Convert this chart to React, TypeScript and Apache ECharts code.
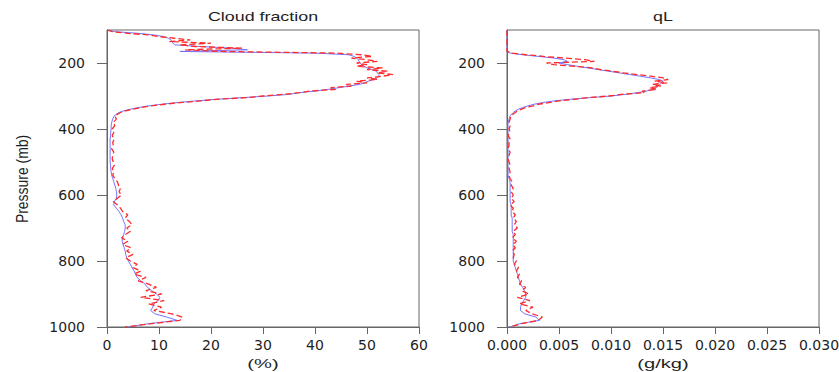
import React, { useEffect, useRef } from "react";
import * as echarts from "echarts";

const pressure = [
  100, 105, 110, 115, 120, 125, 130, 135, 140, 145, 150, 155, 160, 165, 170, 175, 180, 185, 190, 195,
  200, 205, 210, 215, 220, 225, 230, 235, 240, 245, 250, 255, 260, 265, 270, 275, 280, 285, 290, 295,
  300, 305, 310, 315, 320, 325, 330, 335, 340, 345, 350,
  360, 370, 380, 390, 400, 410, 420, 430, 440, 450, 460, 470, 480, 490, 500,
  510, 520, 530, 540, 550, 560, 570, 580, 590, 600, 610, 620, 630, 640, 650,
  660, 670, 680, 690, 700, 710, 720, 730, 740, 750, 760, 770, 780, 790, 800,
  810, 820, 830, 840, 850, 860, 870, 880, 890, 900, 910, 920, 930, 940, 950,
  960, 970, 980, 990, 1000,
];

const cfBlue = [
  0, 1.5, 6, 9, 11, 11.8, 12.3, 12.5, 12.7, 13, 18, 24, 27, 14, 40, 46.5, 47.5, 48, 48.3, 48.5,
  48.6, 49, 49.5, 50, 51, 51.8, 52, 52.3, 52.3, 52, 51.2, 50.3, 49.5, 48.5, 46.5, 44.5, 42.5, 40, 37, 35,
  31, 26, 21, 17, 13.5, 10.5, 8, 6, 4.5, 3.2, 2.3,
  1.4, 1.1, 0.9, 0.8, 0.8, 0.7, 0.7, 0.6, 0.6, 0.6, 0.6, 0.6, 0.6, 0.6, 0.6,
  0.7, 0.7, 0.8, 0.9, 1.1, 1.3, 1.5, 1.7, 1.8, 1.9, 1.8, 1.4, 1.3, 1.8, 2.3,
  2.7, 3.0, 3.2, 3.5, 3.5, 3.4, 3.2, 3.0, 2.9, 3.1, 3.3, 3.5, 3.6, 3.8, 4.1,
  4.5, 4.8, 5.2, 5.5, 5.8, 6.5, 7.3, 7.8, 8.6, 9.5, 10.2, 9.8, 9.0, 8.8, 8.4,
  9.2, 11.5, 13.5, 8, 4,
];

const cfRed = [
  0, 1, 4, 8, 10, 13, 16, 12, 20, 14, 17, 26, 15, 22, 44, 49, 51, 47, 50, 52,
  48, 50, 48, 53, 50, 54, 52, 55, 53, 50, 52, 48, 50, 46, 47, 43, 44, 39, 37, 34,
  30, 27, 21, 18, 14, 11, 8.5, 6.5, 5, 3.5, 2.6,
  1.5, 1.8, 1.2, 1.5, 1.0, 1.3, 1.0, 1.4, 1.1, 1.2, 0.9, 1.3, 1.1, 1.0, 1.2,
  1.4, 1.0, 1.3, 1.1, 1.5, 2.0, 2.2, 2.6, 2.3, 2.8, 2.0, 1.2, 2.0, 2.6, 3.0,
  4.0, 3.5, 4.3, 4.8, 3.8, 4.5, 3.5, 2.8, 4.0, 3.0, 4.6, 3.8, 5.0, 3.6, 4.5,
  5.8, 5.0, 6.5, 5.2, 7.5, 6.0, 8.0, 9.5, 7.5, 10.5, 6.5, 11.0, 8.0, 10.5, 9.0,
  12.5, 14.5, 14.0, 8.5, 3.5,
];

const qlBlue = [
  0, 0, 0, 0, 0, 0, 0, 0, 0, 0, 0, 0, 0, 0, 0.0003, 0.0015, 0.003, 0.0045, 0.0055, 0.0058,
  0.005, 0.0058, 0.0068, 0.0078, 0.0088, 0.0098, 0.0108, 0.0118, 0.0128, 0.0138, 0.0146, 0.015, 0.0149, 0.0147, 0.0145, 0.0143, 0.014, 0.0134, 0.0125, 0.0114,
  0.01, 0.008, 0.006, 0.0045, 0.0034, 0.0026, 0.002, 0.0015, 0.0011, 0.0008, 0.0006,
  0.0003, 0.0002, 0.0001, 0.0001, 0.0001, 0.0001, 0.0001, 0.0001, 0.0001, 0.0001, 0.0001, 0.0001, 0.0001, 0.0001, 0.0001,
  0.0001, 0.0001, 0.0001, 0.0001, 0.0002, 0.0003, 0.0003, 0.0003, 0.0003, 0.0003, 0.0003, 0.0003, 0.0004, 0.0004, 0.0004,
  0.0004, 0.0005, 0.0005, 0.0005, 0.0005, 0.0005, 0.0006, 0.0006, 0.0006, 0.0006, 0.0006, 0.0006, 0.0006, 0.0006, 0.0006,
  0.0007, 0.0008, 0.0009, 0.001, 0.0011, 0.0012, 0.0013, 0.0015, 0.0017, 0.0018, 0.0018, 0.0016, 0.0014, 0.0013, 0.0013,
  0.0017, 0.0028, 0.0031, 0.0012, 0.0003,
];

const qlRed = [
  0, 0, 0, 0, 0, 0, 0, 0, 0, 0, 0, 0, 0, 0, 0.0005, 0.0018, 0.0035, 0.0055, 0.0075, 0.0084,
  0.0038, 0.0045, 0.0065, 0.0082, 0.009, 0.0102, 0.0112, 0.0125, 0.0138, 0.015, 0.0155, 0.0142, 0.0154, 0.014, 0.0148, 0.0137, 0.0144, 0.013, 0.0132, 0.011,
  0.0098, 0.0078, 0.0065, 0.005, 0.004, 0.003, 0.0025, 0.0018, 0.0014, 0.001, 0.0008,
  0.0004, 0.0003, 0.0002, 0.0003, 0.0002, 0.0003, 0.0001, 0.0003, 0.0002, 0.0002, 0.0001, 0.0003, 0.0002, 0.0001, 0.0002,
  0.0003, 0.0002, 0.0003, 0.0002, 0.0003, 0.0005, 0.0004, 0.0006, 0.0004, 0.0006, 0.0004, 0.0007, 0.0003, 0.0006, 0.0005,
  0.0008, 0.0006, 0.0009, 0.0007, 0.001, 0.0006, 0.0008, 0.0005, 0.0009, 0.0006, 0.0008, 0.0005, 0.0007, 0.0006, 0.0009,
  0.0007, 0.0011, 0.0009, 0.0012, 0.001, 0.0014, 0.0012, 0.0018, 0.0014, 0.0021, 0.001, 0.0022, 0.0012, 0.0025, 0.0018,
  0.0024, 0.0034, 0.003, 0.0014, 0.0002,
];

const pressureTicks = [200, 400, 600, 800, 1000];
const titles = ["Cloud fraction", "qL"];
const xNames = ["(%)", "(g/kg)"];
const yName = "Pressure (mb)";

const FONT = "DejaVu Sans";
const SANS = "Liberation Sans";
const AXIS = "#666666";
const TEXT = "#1e1e1e";
const BLUE = "#7373ff";
const RED = "#ff2a2a";

export default function App() {
  const ref = useRef<HTMLDivElement>(null);

  useEffect(() => {
    document.body.style.margin = "0";
    if (!ref.current) return;
    const chart = echarts.init(ref.current, null, { renderer: "svg" });

    const grids = [
      { left: 107, top: 30, width: 312, height: 297 },
      { left: 507, top: 30, width: 312, height: 297 },
    ];

    const xAxis = [0, 1].map((i) => ({
      type: "value",
      gridIndex: i,
      min: 0,
      max: i === 0 ? 60 : 0.03,
      interval: i === 0 ? 10 : 0.005,
      axisLine: { show: true, lineStyle: { color: AXIS, width: 1 } },
      axisTick: { show: true, length: 7, lineStyle: { color: AXIS, width: 1 } },
      axisLabel: {
        show: true,
        margin: 11,
        color: TEXT,
        fontFamily: FONT,
        fontSize: 14,
        showMinLabel: true,
        showMaxLabel: true,
        hideOverlap: false,
        formatter: (v: number) => (i === 0 ? String(v) : v.toFixed(3)),
      },
      splitLine: { show: false },
    }));

    const yAxis = [0, 1].map((i) => ({
      type: "value",
      gridIndex: i,
      min: 100,
      max: 1000,
      inverse: true,
      axisLine: { show: true, lineStyle: { color: AXIS, width: 1 } },
      axisTick: {
        show: true,
        length: 10,
        customValues: pressureTicks,
        lineStyle: { color: AXIS, width: 1 },
      },
      axisLabel: {
        show: true,
        margin: 22,
        color: TEXT,
        fontFamily: FONT,
        fontSize: 14,
        customValues: pressureTicks,
        formatter: (v: number) => String(v),
      },
      splitLine: { show: false },
    }));

    const mk = (vals: number[]) => pressure.map((p, k) => [vals[k], p]);

    const series: any[] = [
      { x: 0, vals: cfBlue, color: BLUE, dash: "solid", w: 1 },
      { x: 0, vals: cfRed, color: RED, dash: [6, 3], w: 1.3 },
      { x: 1, vals: qlBlue, color: BLUE, dash: "solid", w: 1 },
      { x: 1, vals: qlRed, color: RED, dash: [6, 3], w: 1.3 },
    ].map((s) => ({
      type: "line",
      xAxisIndex: s.x,
      yAxisIndex: s.x,
      data: mk(s.vals),
      showSymbol: false,
      symbol: "none",
      smooth: false,
      lineStyle: { color: s.color, width: s.w, type: s.dash },
      silent: true,
    }));

    const txt = (text: string, x: number, y: number, size: number, scaleX: number, rotation = 0) => ({
      type: "text",
      x,
      y,
      rotation,
      scaleX,
      scaleY: 1,
      style: {
        text,
        fill: TEXT,
        font: `${size}px "${SANS}"`,
        align: "center",
        verticalAlign: "middle",
      },
    });

    const graphic: any[] = [
      txt(titles[0], 263, 17, 12.5, 1.43),
      txt(titles[1], 663, 17, 12.5, 1.43),
      txt(xNames[0], 263, 364, 13, 1.55),
      txt(xNames[1], 663, 364, 13, 1.55),
      txt(yName, 22, 179, 17, 0.82, Math.PI / 2),
    ];

    chart.setOption({
      animation: false,
      backgroundColor: "#ffffff",
      grid: grids.map((g) => ({
        ...g,
        show: true,
        borderColor: AXIS,
        borderWidth: 1,
        backgroundColor: "transparent",
        containLabel: false,
        outerBoundsMode: "none",
      })),
      xAxis,
      yAxis,
      series,
      graphic,
    });

    return () => chart.dispose();
  }, []);

  return <div ref={ref} style={{ width: 839, height: 372 }} />;
}
